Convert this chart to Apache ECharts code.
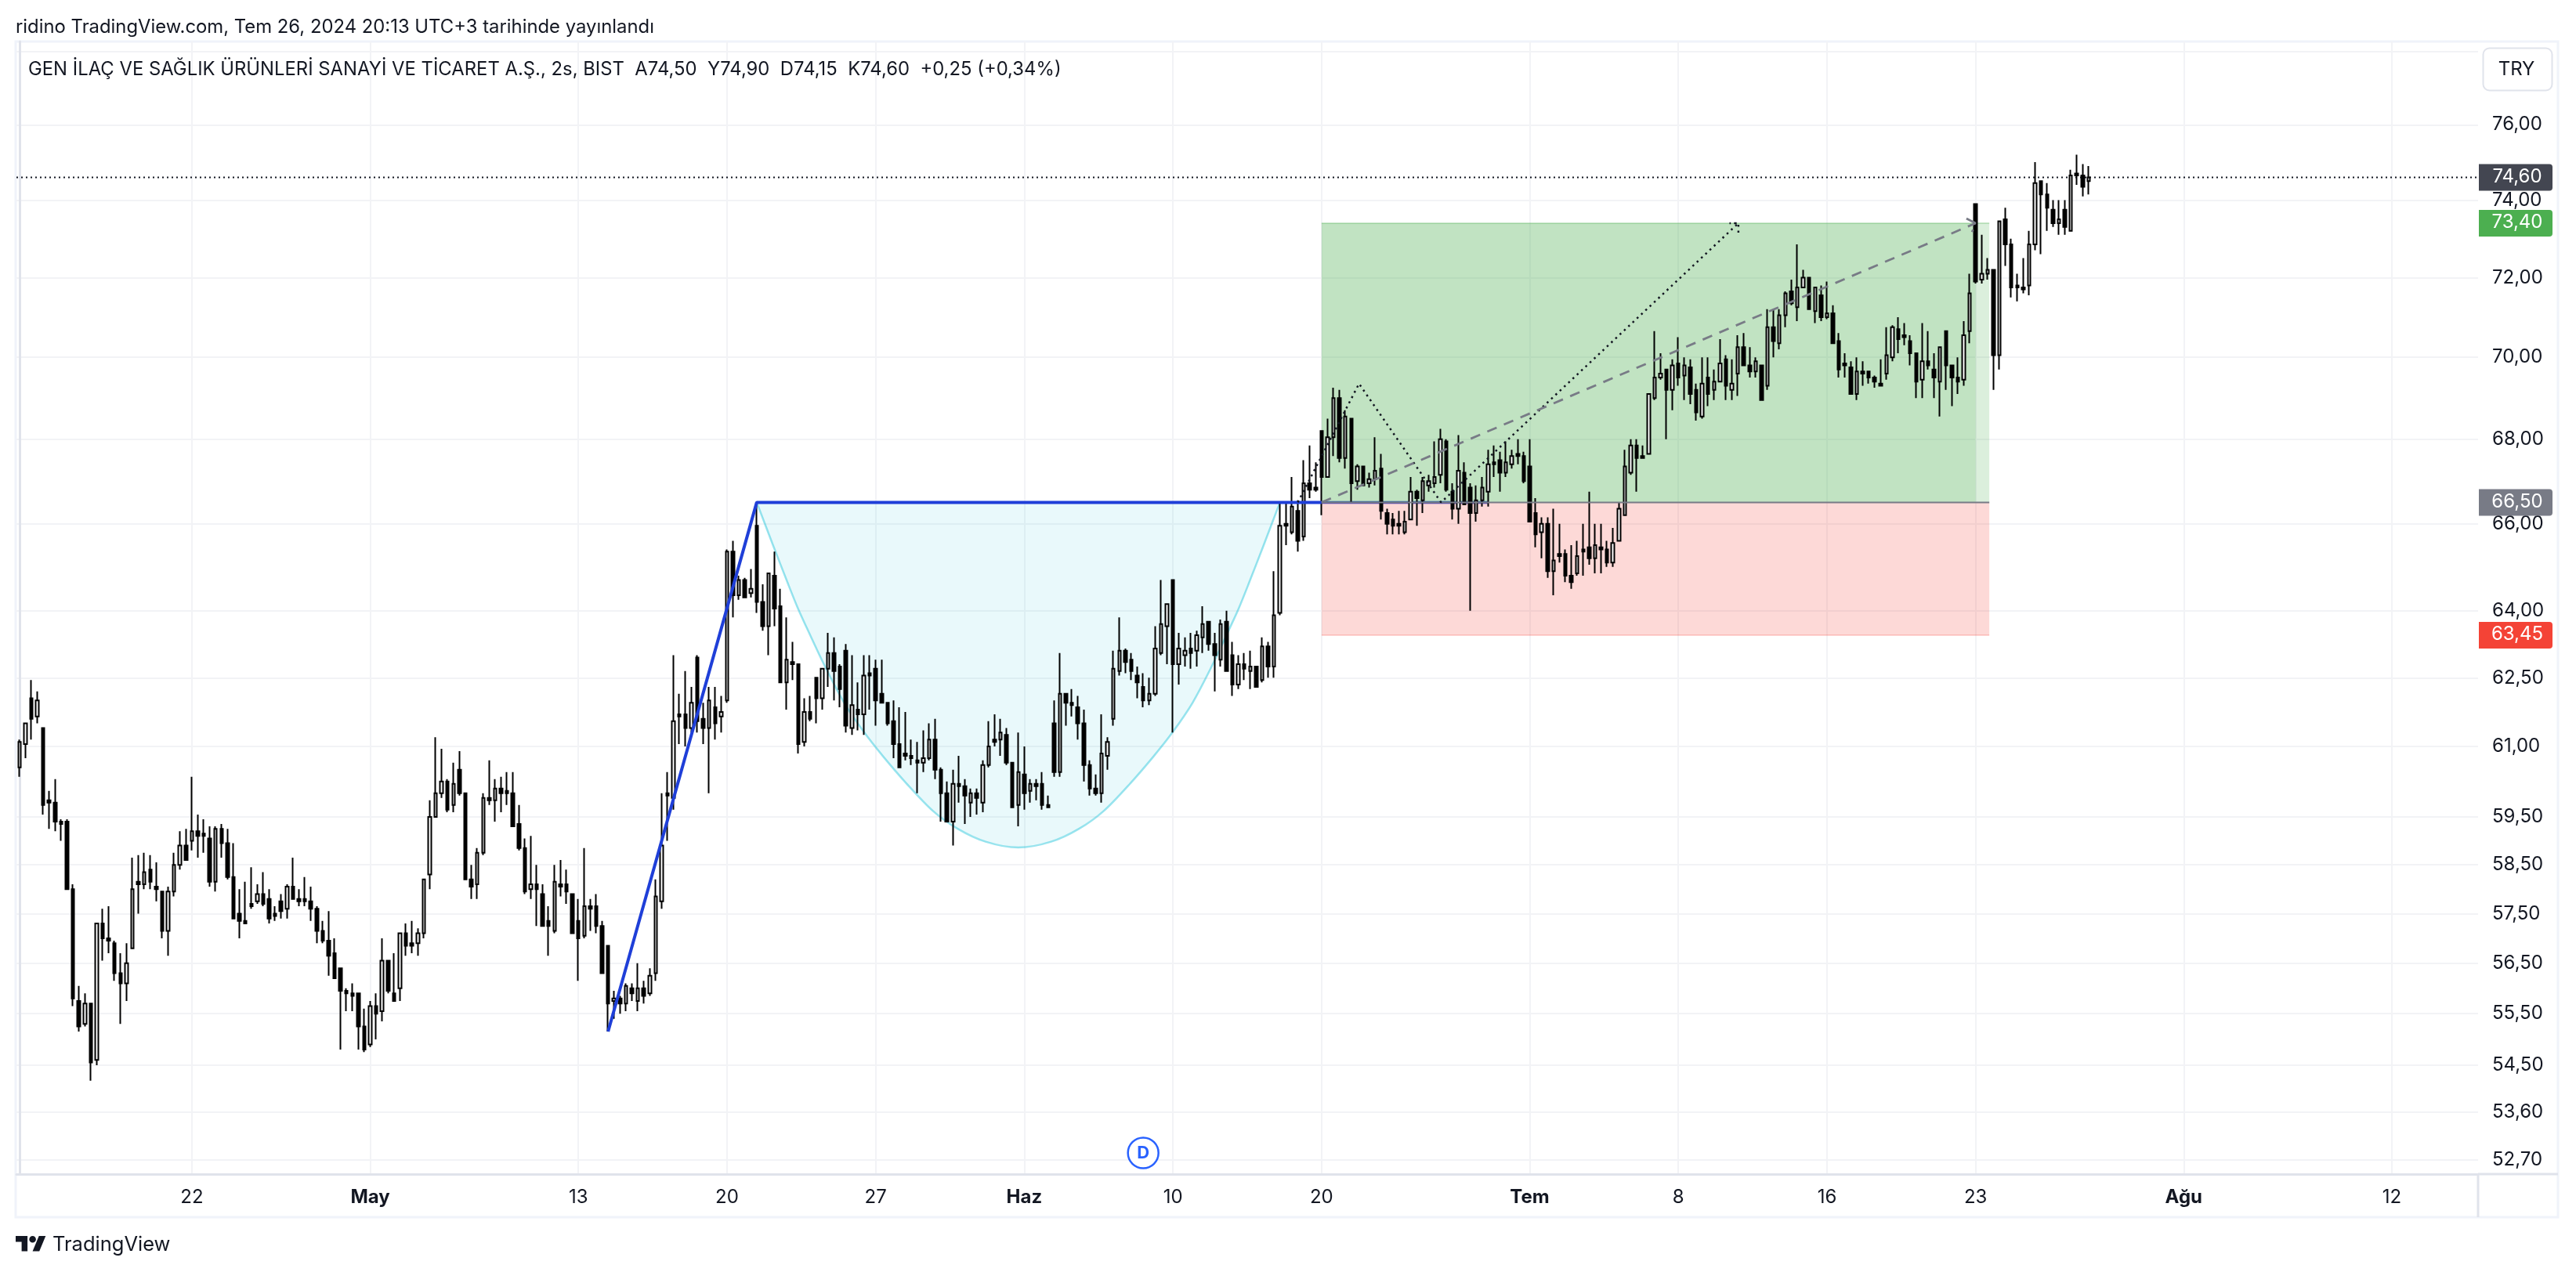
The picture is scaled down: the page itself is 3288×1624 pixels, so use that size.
<!DOCTYPE html>
<html><head><meta charset="utf-8"><style>html,body{margin:0;padding:0;background:#fff}#c{width:3288px;height:1624px}</style>
<script src="https://cdn.jsdelivr.net/npm/echarts@6/dist/echarts.min.js"></script></head><body><div id="c"></div>
<script>
const BAR_SLOTS = 414;
const opens = [60.55,61.05,62.05,61.65,61.4,59.85,59.8,59.4,59.4,58.0,
55.75,55.3,55.7,54.6,57.3,57.0,56.9,56.3,56.1,56.8,
58.15,58.1,58.4,58.05,57.95,57.15,57.95,58.5,58.9,59.0,
59.2,59.15,59.05,58.15,59.25,58.95,58.25,57.5,57.35,57.7,
57.75,57.9,57.8,57.5,57.75,57.6,58.05,57.8,57.8,57.75,
57.6,57.15,56.95,56.7,56.4,55.95,55.9,55.9,55.25,54.9,
55.65,55.55,56.55,55.9,56.0,57.1,56.9,56.9,57.1,58.3,
59.5,60.0,60.25,59.75,60.5,60.0,58.2,58.1,58.75,59.9,
59.85,60.1,60.05,60.0,59.35,58.85,58.0,58.1,57.9,57.35,
57.15,58.1,58.1,57.9,57.35,57.05,57.65,57.65,57.25,56.85,
55.75,55.8,55.7,56.0,55.75,56.0,55.9,56.3,57.75,60.0,
59.9,61.7,61.7,61.4,62.95,61.6,61.4,61.85,61.65,62.0,
65.35,64.35,64.7,64.4,65.95,64.2,63.65,64.8,64.1,62.4,
62.85,62.8,61.1,61.75,62.5,62.05,62.7,63.05,62.75,63.1,
61.4,61.8,61.7,62.6,62.7,62.15,61.95,61.55,61.05,60.85,
60.8,60.7,60.65,60.75,61.15,60.5,60.0,59.4,60.2,60.15,
59.8,60.0,59.8,60.6,61.15,61.15,61.25,60.65,59.75,60.4,
60.05,60.2,60.2,59.75,61.5,60.45,62.15,61.95,61.85,61.5,
60.6,60.1,60.0,60.8,61.6,62.65,63.1,62.9,62.55,62.3,
62.0,62.15,63.05,63.65,64.7,62.8,63.0,63.15,63.1,63.4,
63.75,63.25,62.9,63.75,63.0,62.35,62.8,62.65,62.75,62.45,
63.2,62.75,63.95,66.0,65.8,66.3,65.7,66.95,66.85,68.2,
67.1,68.05,69.0,67.55,68.5,67.0,67.35,66.95,67.05,67.3,
66.25,66.1,66.0,65.8,66.1,66.75,66.55,66.9,66.95,67.15,
67.95,66.75,66.35,67.2,66.85,66.25,66.55,66.75,67.45,67.5,
67.2,67.4,67.65,67.6,67.35,66.25,65.8,66.0,64.9,65.3,
65.3,64.8,64.85,65.4,65.45,65.2,65.45,65.4,65.1,65.6,
66.2,67.2,67.85,67.6,67.65,69.0,69.5,69.7,69.2,69.85,
69.55,69.75,69.2,68.55,69.5,69.2,69.4,69.95,69.2,69.6,
70.25,69.8,69.65,69.8,69.3,70.75,70.35,71.05,71.65,71.25,
71.75,72.0,71.15,71.55,71.0,71.1,70.4,69.85,69.75,69.1,
69.65,69.65,69.5,69.35,69.6,70.0,70.7,70.55,70.4,70.1,
69.45,69.9,69.7,69.4,70.65,69.8,69.5,69.45,70.65,73.9,
71.95,72.1,72.2,70.05,73.5,72.85,71.8,71.75,71.8,72.85,
74.5,74.15,73.75,73.4,73.75,73.2,74.7,74.65,74.5];
const highs = [61.15,61.5,62.45,62.2,61.4,60.05,60.3,59.45,59.45,58.1,
56.05,55.9,55.7,57.3,57.6,57.65,56.95,56.7,56.9,58.65,
58.7,58.75,58.7,58.55,57.95,58.05,58.75,59.2,59.25,60.35,
59.55,59.45,59.3,59.3,59.35,59.25,58.95,58.0,58.15,58.45,
58.1,58.35,58.0,57.65,57.9,58.1,58.65,58.0,58.25,58.05,
57.65,57.35,57.55,57.0,56.4,56.0,56.1,55.9,55.6,55.75,
55.9,57.0,56.55,56.7,57.1,57.3,57.35,57.2,58.2,59.85,
61.2,60.95,60.3,60.65,60.9,60.0,58.5,58.85,60.0,60.7,
60.3,60.35,60.45,60.45,59.75,59.05,59.1,58.5,58.1,57.65,
58.5,58.6,58.4,57.9,57.8,58.85,57.8,57.9,57.35,56.85,
55.95,55.85,56.1,56.1,56.5,56.15,56.4,58.2,60.0,60.45,
63.0,62.15,62.65,62.3,63.0,61.95,62.3,62.3,62.1,65.4,
65.6,64.8,64.75,64.95,66.5,64.6,64.85,65.35,64.5,63.85,
63.3,62.8,62.05,62.1,62.5,62.7,63.5,63.4,62.8,63.25,
63.0,62.4,63.0,63.0,62.9,62.9,61.95,62.0,61.85,61.75,
61.15,61.1,61.35,61.5,61.6,60.55,60.25,60.5,60.8,60.3,
60.1,60.1,60.7,61.55,61.7,61.6,61.4,60.65,61.3,61.0,
60.3,60.3,60.45,59.95,62.0,63.05,62.15,62.25,62.1,61.8,
60.7,60.4,61.7,61.2,63.1,63.85,63.15,63.05,62.75,62.6,
62.5,63.65,64.7,64.15,64.7,63.5,63.4,63.5,63.55,64.1,
63.75,63.5,63.8,64.0,63.3,63.0,63.05,63.1,62.75,63.4,
63.3,64.9,66.5,66.5,67.1,66.55,67.5,67.85,67.45,68.2,
68.5,69.25,69.2,68.7,68.5,67.4,67.35,67.2,68.05,67.65,
66.35,66.25,66.3,66.3,67.1,66.8,67.1,67.15,67.95,68.25,
68.0,66.95,68.1,67.45,66.95,66.9,67.1,67.75,67.85,67.7,
67.95,67.75,68.0,67.7,68.0,66.6,66.15,66.15,66.35,66.0,
65.4,65.5,65.6,66.0,66.75,66.0,66.0,65.6,65.9,66.5,
67.75,68.0,68.0,67.85,69.1,70.65,70.1,69.7,69.95,70.5,
70.0,69.95,69.35,70.0,70.0,69.7,70.45,70.05,69.95,70.55,
70.6,70.25,70.0,69.8,71.2,71.2,71.2,71.65,71.95,72.85,
72.2,72.0,71.75,71.8,71.9,71.3,70.6,70.1,69.9,70.0,
69.9,69.65,69.55,69.95,70.75,70.8,71.0,70.85,70.55,70.1,
70.85,70.65,70.1,70.25,70.65,69.8,70.0,70.9,72.1,73.9,
73.1,72.5,72.2,73.45,73.8,73.0,72.1,72.5,73.2,75.0,
74.5,74.45,74.0,74.0,74.0,74.8,75.2,74.95,74.9];
const lows = [60.35,60.75,61.15,61.5,59.55,59.25,59.2,59.0,58.0,55.65,
55.15,55.25,54.2,54.5,56.55,56.7,56.15,55.3,55.75,56.8,
57.5,58.0,58.0,57.75,57.0,56.65,57.85,58.4,58.6,58.8,
58.65,58.75,58.05,57.95,58.65,58.2,57.4,57.0,57.3,57.6,
57.7,57.65,57.3,57.35,57.4,57.4,57.8,57.65,57.65,57.35,
56.9,56.9,56.25,56.2,54.8,55.55,55.55,54.8,54.75,54.85,
55.0,55.35,55.9,55.75,55.75,56.65,56.7,56.65,57.0,58.0,
59.5,59.9,59.6,59.6,59.95,58.2,57.8,57.8,58.7,59.75,
59.4,59.6,59.75,59.3,58.8,57.9,57.8,57.25,57.25,56.65,
57.1,57.85,57.7,57.1,56.15,57.0,57.15,57.1,56.3,55.15,
55.4,55.5,55.55,55.75,55.55,55.7,55.85,56.15,57.6,59.0,
59.65,61.05,61.0,61.3,61.3,61.05,60.0,61.15,61.3,61.95,
63.85,64.25,64.3,64.3,63.95,63.55,63.0,63.65,62.4,61.8,
62.45,60.85,61.0,61.55,61.5,61.8,62.3,62.0,61.85,61.3,
61.25,61.35,61.25,61.8,61.45,61.95,61.45,60.75,60.55,60.7,
60.6,60.0,60.45,60.7,60.3,59.4,59.4,58.9,59.8,59.35,
59.5,59.55,59.6,60.55,61.0,60.8,60.6,59.7,59.3,59.65,
59.8,59.85,59.65,59.7,60.35,60.35,61.45,61.65,61.15,60.25,
59.95,59.95,59.8,60.5,61.45,62.55,62.6,62.45,62.05,61.85,
61.9,62.1,63.0,62.8,61.3,62.35,62.75,62.7,62.75,63.05,
63.1,62.2,62.75,62.65,62.1,62.25,62.45,62.25,62.3,62.4,
62.5,62.5,63.9,65.5,65.75,65.35,65.6,66.6,66.75,66.2,
67.1,67.6,67.45,67.3,66.5,66.8,66.9,66.85,66.9,66.1,
65.75,65.75,65.75,65.75,66.1,65.95,66.25,66.75,66.85,66.95,
66.75,66.1,66.0,66.45,64.0,66.05,66.4,66.4,67.1,66.75,
67.1,67.3,67.4,66.95,66.05,65.45,65.2,64.75,64.35,65.1,
64.65,64.5,64.8,64.8,65.05,64.85,64.85,65.0,65.0,65.6,
66.2,67.15,66.75,67.55,67.65,68.95,69.45,68.0,68.7,69.3,
68.95,68.85,68.45,68.5,68.8,68.95,69.4,68.95,68.95,69.05,
69.8,69.5,69.5,68.95,69.2,70.0,70.2,70.75,71.3,70.9,
71.75,71.2,70.85,70.9,70.95,70.35,69.5,69.5,69.1,68.95,
69.3,69.35,69.25,69.3,69.45,69.9,70.1,70.3,69.8,69.0,
69.0,69.7,69.0,68.55,69.2,68.8,69.1,69.3,70.35,71.85,
71.85,71.95,69.2,69.7,72.3,71.5,71.4,71.6,71.55,72.7,
72.6,73.2,73.3,73.1,73.1,73.2,74.4,74.1,74.15];
const closes = [61.1,61.5,61.6,62.0,59.75,59.8,59.4,59.35,58.0,55.8,
55.25,55.7,54.55,57.3,57.0,56.95,56.3,56.1,56.5,58.0,
58.1,58.35,58.15,58.0,57.15,57.95,58.5,58.9,58.6,59.2,
59.1,59.1,58.15,59.25,58.95,58.25,57.4,57.35,57.3,57.65,
57.9,57.7,57.4,57.45,57.55,58.05,57.8,57.75,57.75,57.6,
57.15,56.95,56.65,56.2,55.95,55.9,55.85,55.25,54.8,55.65,
55.5,56.55,55.95,55.75,57.1,56.85,56.85,57.1,58.2,59.5,
60.0,60.25,59.65,60.2,60.0,58.2,58.05,58.75,59.9,59.85,
60.1,60.0,60.0,59.3,58.85,57.95,58.1,58.0,57.25,57.25,
58.15,58.05,57.95,57.1,57.0,57.65,57.6,57.25,56.3,55.7,
55.8,55.7,56.05,55.9,56.0,55.85,56.25,57.85,58.9,59.95,
61.55,61.65,61.4,61.95,61.55,61.4,62.0,61.5,61.75,65.35,
64.35,64.7,64.3,64.5,64.2,63.65,64.85,64.05,62.4,62.9,
62.8,61.05,61.75,61.6,62.05,62.7,63.05,62.65,62.25,61.45,
61.9,61.7,62.55,62.55,62.0,61.95,61.5,61.05,60.55,60.8,
60.75,60.65,60.75,61.15,60.5,60.0,59.4,60.2,60.15,59.95,
60.0,59.9,60.6,61.0,61.1,61.3,60.65,59.7,60.45,60.0,
60.2,60.15,59.75,59.7,60.45,62.15,61.95,61.9,61.5,60.6,
60.1,60.0,60.85,61.1,62.7,63.1,62.85,62.65,62.4,62.0,
62.15,63.15,63.7,64.15,62.8,63.15,63.1,63.05,63.45,63.7,
63.25,63.0,63.7,62.65,62.35,62.8,62.7,62.75,62.3,63.2,
62.75,63.9,65.95,65.95,66.4,65.6,66.95,66.8,66.8,67.1,
68.05,69.0,67.55,68.55,66.95,67.35,66.9,67.05,67.25,66.3,
66.0,65.95,65.95,66.05,66.75,66.6,67.0,67.0,67.1,68.0,
66.8,66.35,67.25,66.45,66.25,66.55,66.85,67.4,67.4,67.2,
67.45,67.6,67.6,67.0,66.05,65.75,66.0,64.9,65.15,65.25,
64.8,64.65,65.25,65.35,65.2,65.5,65.4,65.1,65.55,66.35,
67.35,67.85,67.55,67.55,69.1,69.5,69.6,69.2,69.8,69.5,
69.8,69.1,68.65,69.35,69.1,69.4,69.85,69.3,69.35,70.25,
69.8,69.65,69.9,68.95,70.75,70.4,71.05,71.6,71.35,71.75,
72.0,71.2,71.75,71.0,71.1,70.35,69.7,69.8,69.1,69.65,
69.6,69.5,69.4,69.3,70.05,70.75,70.45,70.5,70.1,69.4,
69.9,69.8,69.5,70.25,69.8,69.5,69.4,70.55,71.6,71.9,
72.1,72.2,70.05,73.45,72.85,71.75,71.75,71.7,72.85,74.45,
74.15,73.8,73.4,73.5,73.3,74.65,74.65,74.35,74.6];

const timeTickBars = [29,59,94,119,144,169,194,219,254,279,304,329,364,399];
const timeTickLabels = ['22','May','13','20','27','Haz','10','20','Tem','8','16','23','Ağu','12'];
const monthLabels = ['May','Haz','Tem','Ağu'];
const priceLabelValues = [76,74,72,70,68,66,64,62.5,61,59.5,58.5,57.5,56.5,55.5,54.5,53.6,52.7];
const priceGridValues = [78].concat(priceLabelValues);
const tagValues = [74.6,73.4,66.5,63.45];
const lastPrice = 74.6, targetPrice = 73.4, entryPrice = 66.5, stopPrice = 63.45;
const zoneStart = 219, zoneFilledEnd = 329, zoneEnd = 331.3;
const cupBars =   [124,126.8,129.3,131,132.4,135.3,138.7,142.1,145.3,149.1,153.6,157.8,162.5,168,173.5,178.2,182.4,186.9,190.7,193.9,197.3,200.7,203.6,205,206.7,209.2,212];
const cupPrices = [66.5,65.48,64.6,64.03,63.62,62.8,61.95,61.3,60.78,60.22,59.63,59.25,58.98,58.86,58.98,59.25,59.63,60.22,60.78,61.3,61.95,62.8,63.62,64.03,64.6,65.48,66.5];
const patternBars = [99,124,219], patternPrices = [55.15,66.5,66.5];
const patternTailBars = [219,247], patternTailPrices = [66.5,66.5];
const dottedBars = [215,225.3,239.1,289.1,287.6,289.1,289.1], dottedPrices = [66.5,69.35,66.5,73.4,73.4,73.4,73.1];
const dashedBars = [219,329,327.45,329,328.4], dashedPrices = [66.5,73.4,73.52,73.4,73.17];
const dividendBar = 189;

const TEXT='#131722', FONT='Inter';
const tagColors = ['#434651','#4CAF50','#787B86','#F44336'];
const fmt = v => v.toFixed(2).replace('.',',');
const categories = opens.map((_,i)=>String(i));
for(let i=opens.length;i<BAR_SLOTS;i++) categories.push(String(i));
const candles = opens.map((o,i)=>[o,closes[i],lows[i],highs[i]]);
const pairs=(a,b)=>a.map((v,i)=>[v,b[i]]);
const lineSeries=(name,data,z,style)=>({name,type:'line',xAxisIndex:1,yAxisIndex:0,data,z,symbol:'none',silent:true,animation:false,lineStyle:style});

const zoneSpecs=[
 {x0:zoneStart,x1:zoneFilledEnd,y0:entryPrice,y1:targetPrice,fill:'rgba(76,175,80,.35)',edge:targetPrice,edgeColor:'rgba(76,175,80,.3)'},
 {x0:zoneFilledEnd,x1:zoneEnd,y0:entryPrice,y1:targetPrice,fill:'rgba(76,175,80,.2)',edge:targetPrice,edgeColor:'rgba(76,175,80,.3)'},
 {x0:zoneStart,x1:zoneEnd,y0:stopPrice,y1:entryPrice,fill:'rgba(244,67,54,.2)',edge:stopPrice,edgeColor:'rgba(244,67,54,.2)'}
];

const option={
 animation:false,backgroundColor:'#fff',
 textStyle:{fontFamily:FONT},
 title:[
  {text:'ridino TradingView.com, Tem 26, 2024 20:13 UTC+3 tarihinde yayınlandı',left:20,top:23,textStyle:{fontFamily:FONT,fontSize:23.85,fontWeight:'normal',color:TEXT},padding:0},
  {text:'GEN İLAÇ VE SAĞLIK ÜRÜNLERİ SANAYİ VE TİCARET A.Ş., 2s, BIST  A74,50  Y74,90  D74,15  K74,60  +0,25 (+0,34%)',left:36,top:77,textStyle:{fontFamily:FONT,fontSize:23.85,fontWeight:'normal',color:TEXT},padding:0}
 ],
 grid:{left:21,right:125,top:53,bottom:125,containLabel:false},
 xAxis:[
  {type:'category',data:categories,boundaryGap:true,
   axisLine:{show:true,lineStyle:{color:'#e0e3eb',width:3}},
   axisTick:{show:false,alignWithLabel:true,customValues:timeTickBars},
   axisLabel:{show:true,customValues:timeTickBars,margin:18,fontFamily:FONT,fontSize:24,color:TEXT,
     formatter:(v)=>{const s=timeTickLabels[timeTickBars.indexOf(+v)];return monthLabels.includes(s)?'{b|'+s+'}':s;},
     rich:{b:{fontFamily:FONT,fontSize:24,fontWeight:'bold',color:TEXT}}},
   splitLine:{show:true,alignWithLabel:true,lineStyle:{color:'#f2f3f6',width:2}}},
  {type:'value',min:-0.5,max:BAR_SLOTS-0.5,show:false,splitLine:{show:false}}
 ],
 yAxis:[{type:'log',logBase:10,position:'right',min:52.44,max:78.27,
   axisLine:{show:true,lineStyle:{color:'#e0e3eb',width:3}},
   axisTick:{show:false,customValues:priceGridValues},
   axisLabel:{show:true,customValues:priceLabelValues,margin:18,fontFamily:FONT,fontSize:24,color:TEXT,formatter:fmt,align:'left',showMinLabel:true,showMaxLabel:true},
   minorTick:{show:false},minorSplitLine:{show:false},
   splitLine:{show:true,lineStyle:{color:'#f2f3f6',width:2}}}],
 graphic:[
  {type:'rect',z:-1,silent:true,shape:{x:20,y:53,width:3245,height:1501},style:{fill:'none',stroke:'#f0f3fa',lineWidth:3}},
  {type:'line',z:-1,silent:true,shape:{x1:3163,y1:1499,x2:3265,y2:1499},style:{stroke:'#e0e3eb',lineWidth:3}},
  {type:'line',z:-1,silent:true,shape:{x1:3163,y1:1499,x2:3163,y2:1554},style:{stroke:'#e0e3eb',lineWidth:3}},
  {type:'rect',z:100,silent:true,shape:{x:3169.5,y:61.5,width:88,height:54,r:8},style:{fill:'#fff',stroke:'#e0e3eb',lineWidth:2}},
  {type:'text',z:101,silent:true,style:{x:3212,y:88.5,text:'TRY',fill:TEXT,font:'24px Inter',textAlign:'center',textVerticalAlign:'middle'}},
  {type:'polygon',silent:true,shape:{points:[[20,1578],[35.1,1578],[35.1,1597.4],[27.6,1597.4],[27.6,1585.6],[20,1585.6]]},style:{fill:TEXT}},
  {type:'polygon',silent:true,shape:{points:[[41.6,1597.4],[49.7,1578],[58.3,1578],[50.2,1597.4]]},style:{fill:TEXT}},
  {type:'circle',silent:true,shape:{cx:41.6,cy:1582.3,r:4.3},style:{fill:TEXT}},
  {type:'text',silent:true,style:{x:67,y:1589,text:'TradingView',fill:TEXT,font:'25.5px Inter',textVerticalAlign:'middle'}}
 ],
 series:[
  {name:'Cup',type:'custom',xAxisIndex:1,yAxisIndex:0,coordinateSystem:'cartesian2d',z:2,silent:true,data:[[cupBars[0],cupPrices[0]]],
   renderItem:(p,api)=>{const pts=cupBars.map((b,i)=>api.coord([b,cupPrices[i]]));
     return {type:'group',children:[
      {type:'polygon',shape:{points:pts},style:{fill:'rgba(0,190,205,.085)',stroke:null}},
      {type:'polyline',shape:{points:pts,smooth:0.3},style:{fill:null,stroke:'rgba(0,188,212,.4)',lineWidth:2.5,lineJoin:'round'}}]};}},
  lineSeries('PatternTail',pairs(patternTailBars,patternTailPrices),2,{color:'#1f3fd8',width:3.5}),
  {name:'Zones',type:'custom',xAxisIndex:1,yAxisIndex:0,coordinateSystem:'cartesian2d',z:3,silent:true,
   data:zoneSpecs.map(z=>[z.x0,z.y0]),
   renderItem:(p,api)=>{const z=zoneSpecs[p.dataIndex];const a=api.coord([z.x0,z.y1]),b=api.coord([z.x1,z.y0]),e=api.coord([z.x0,z.edge]);
     return {type:'group',children:[
      {type:'rect',shape:{x:a[0],y:a[1],width:b[0]-a[0],height:b[1]-a[1]},style:{fill:z.fill}},
      {type:'line',shape:{x1:a[0],y1:e[1],x2:b[0],y2:e[1]},style:{stroke:z.edgeColor,lineWidth:2}}]};}},
  {name:'GEN',type:'candlestick',xAxisIndex:0,yAxisIndex:0,z:5,data:candles,barWidth:4,silent:true,animation:false,
   itemStyle:{color:'#ffffff',color0:'#000000',borderColor:'#000000',borderColor0:'#000000',borderWidth:2}},
  lineSeries('Pattern',pairs(patternBars,patternPrices),6,{color:'#1f3fd8',width:4}),
  lineSeries('LastPrice',[[-0.5,lastPrice],[BAR_SLOTS-0.5,lastPrice]],4,{color:TEXT,width:2,type:[2,4]}),
  lineSeries('Entry',[[zoneStart,entryPrice],[zoneEnd,entryPrice]],7,{color:'#787B86',width:2}),
  lineSeries('Dotted',pairs(dottedBars,dottedPrices),7,{color:'#131722',width:2.5,type:[2.5,5]}),
  lineSeries('Dashed',pairs(dashedBars,dashedPrices),7,{color:'#787B86',width:2.8,type:[13,10]}),
  {name:'Dividend',type:'custom',xAxisIndex:1,yAxisIndex:0,coordinateSystem:'cartesian2d',z:8,silent:true,data:[[dividendBar,entryPrice]],
   renderItem:(p,api)=>{const c=api.coord([dividendBar,entryPrice]);const y=p.coordSys.y+p.coordSys.height-27;
     return {type:'group',children:[
      {type:'circle',shape:{cx:c[0],cy:y,r:19.5},style:{fill:'#fff',stroke:'#2962ff',lineWidth:2.5}},
      {type:'text',style:{x:c[0],y:y,text:'D',fill:'#2962ff',font:'bold 22px Inter',textAlign:'center',textVerticalAlign:'middle'}}]};}},
  {name:'Tags',type:'custom',xAxisIndex:1,yAxisIndex:0,coordinateSystem:'cartesian2d',z:20,silent:true,clip:false,data:tagValues.map(v=>[BAR_SLOTS-1,v]),
   renderItem:(p,api)=>{const v=tagValues[p.dataIndex];const y=api.coord([0,v])[1];const x=p.coordSys.x+p.coordSys.width;
     return {type:'group',children:[
      {type:'rect',shape:{x:x+1,y:y-17,width:94,height:34,r:[0,4,4,0]},style:{fill:tagColors[p.dataIndex]}},
      {type:'text',style:{x:x+50,y:y-1,text:fmt(v),fill:'#fff',font:'24px Inter',textAlign:'center',textVerticalAlign:'middle'}}]};}}
 ]
};
const chart=echarts.init(document.getElementById('c'),null,{renderer:'canvas',width:3288,height:1624});
chart.setOption(option);
</script></body></html>
